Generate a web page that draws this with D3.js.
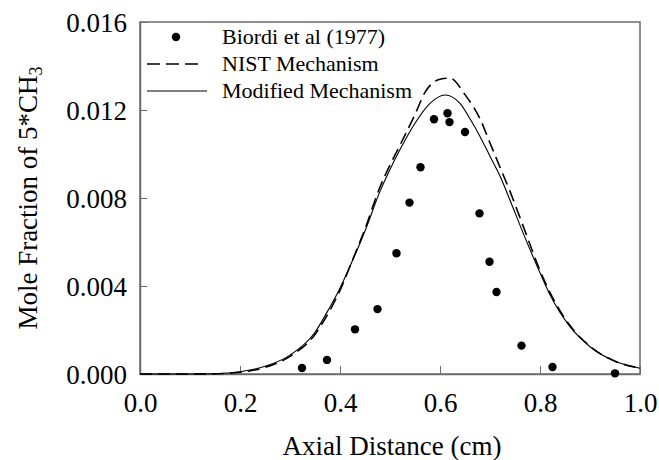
<!DOCTYPE html>
<html lang="en">
    <head>
        <meta charset="utf-8">
        <title>CH3 profile</title>
        <script type="text/javascript" src="https://cdnjs.cloudflare.com/ajax/libs/d3/7.8.5/d3.min.js"></script>
        <style type="text/css">
            body { margin: 0; background: #fff; }
            text { font-family: "Liberation Serif", "Times New Roman", serif; fill: #000; }
        </style>
    </head>
    <body>
        <script type="text/javascript">
            var w = 659;
            var h = 460;

            // measured points, Biordi et al (1977)
            var biordiX = [0.324, 0.374, 0.430, 0.475, 0.513, 0.539, 0.561, 0.588, 0.615, 0.619, 0.650, 0.679, 0.699, 0.713, 0.763, 0.825, 0.950];
            var biordiY = [0.00027, 0.00064, 0.00203, 0.00295, 0.00549, 0.00779, 0.00940, 0.01158, 0.01185, 0.01145, 0.01100, 0.00730, 0.00510, 0.00373, 0.00129, 0.00032, 0.00003];

            // NIST mechanism (dashed)
            var nistX = [0.00, 0.05, 0.10, 0.15, 0.20, 0.25, 0.30, 0.35, 0.38, 0.40, 0.42, 0.45, 0.48, 0.50, 0.52, 0.55, 0.57, 0.60, 0.62, 0.65, 0.68, 0.70, 0.72, 0.74, 0.77, 0.80, 0.82, 0.86, 0.90, 0.95, 1.00];
            var nistY = [0, 0, 0, 0.00001, 0.00008, 0.0003, 0.0008, 0.0018, 0.0029, 0.0038, 0.0049, 0.0066, 0.0085, 0.0095, 0.0104, 0.0118, 0.0128, 0.0134, 0.01345, 0.0127, 0.0116, 0.0105, 0.0094, 0.0083, 0.0065, 0.0047, 0.0037, 0.0022, 0.00126, 0.00058, 0.00027];

            // modified mechanism (solid)
            var modX = [0.00, 0.05, 0.10, 0.15, 0.20, 0.25, 0.30, 0.35, 0.38, 0.40, 0.42, 0.45, 0.48, 0.50, 0.52, 0.55, 0.58, 0.61, 0.64, 0.66, 0.68, 0.70, 0.72, 0.74, 0.77, 0.80, 0.82, 0.86, 0.90, 0.95, 1.00];
            var modY = [0, 0, 0, 0.00001, 0.0001, 0.00035, 0.00086, 0.0019, 0.00305, 0.0039, 0.0049, 0.0065, 0.0083, 0.0093, 0.0102, 0.0114, 0.0123, 0.01268, 0.0123, 0.0116, 0.0108, 0.0099, 0.0090, 0.0079, 0.0062, 0.0046, 0.0036, 0.00215, 0.00124, 0.00058, 0.00026];

            var xTicks = [0, 0.2, 0.4, 0.6, 0.8, 1.0];
            var yTicks = [0, 0.004, 0.008, 0.012, 0.016];
            var legendLabels = ["Biordi et al (1977)", "NIST Mechanism", "Modified Mechanism"];

            var pLeft = 140, pRight = 640, pTop = 22, pBottom = 374;

            var x = d3.scaleLinear().domain([0, 1]).range([pLeft, pRight]);
            var y = d3.scaleLinear().domain([0, 0.016]).range([pBottom, pTop]);

            var svg = d3.select("body")
                        .append("svg")
                        .attr("width", w)
                        .attr("height", h);

            // frame
            svg.append("rect")
               .attr("x", pLeft).attr("y", pTop)
               .attr("width", pRight - pLeft).attr("height", pBottom - pTop)
               .attr("fill", "none")
               .attr("stroke", "#6b6b6b")
               .attr("stroke-width", 1.5);

            var xAxis = svg.append("g")
               .attr("transform", "translate(0," + pBottom + ")")
               .call(d3.axisBottom(x).tickValues(xTicks).tickFormat(d3.format(".1f")).tickSizeInner(-8).tickSizeOuter(0));
            xAxis.select(".domain").attr("stroke", "#6b6b6b").attr("stroke-width", 1.5);
            xAxis.selectAll(".tick line").attr("stroke", "#6b6b6b");
            xAxis.selectAll(".tick text")
                 .attr("y", 38).attr("dy", null)
                 .style("font-family", "Liberation Serif").style("font-size", "27px");

            var yAxis = svg.append("g")
               .attr("transform", "translate(" + pLeft + ",0)")
               .call(d3.axisLeft(y).tickValues(yTicks).tickFormat(d3.format(".3f")).tickSizeInner(-7).tickSizeOuter(0));
            yAxis.select(".domain").attr("stroke", "#6b6b6b").attr("stroke-width", 1.5);
            yAxis.selectAll(".tick line").attr("stroke", "#6b6b6b");
            yAxis.selectAll(".tick text")
                 .attr("x", -13).attr("dy", "0.34em")
                 .style("font-family", "Liberation Serif").style("font-size", "27px");

            // curves
            var line = d3.line()
                .x(function(d) { return x(d[0]); })
                .y(function(d) { return y(d[1]); })
                .curve(d3.curveMonotoneX);

            svg.append("path")
               .datum(d3.zip(nistX, nistY))
               .attr("d", line)
               .attr("fill", "none")
               .attr("stroke", "#000")
               .attr("stroke-width", 1.6)
               .attr("stroke-dasharray", "12,6");

            svg.append("path")
               .datum(d3.zip(modX, modY))
               .attr("d", line)
               .attr("fill", "none")
               .attr("stroke", "#000")
               .attr("stroke-width", 1.1);

            svg.selectAll("circle.pt")
               .data(d3.zip(biordiX, biordiY))
               .enter()
               .append("circle")
               .attr("class", "pt")
               .attr("cx", function(d) { return x(d[0]); })
               .attr("cy", function(d) { return y(d[1]); })
               .attr("r", 4.2)
               .attr("fill", "#000");

            // legend
            var rowY = [37, 64, 91];
            svg.append("circle").attr("cx", 176).attr("cy", rowY[0]).attr("r", 4.2).attr("fill", "#000");
            svg.append("line").attr("x1", 147).attr("x2", 199).attr("y1", rowY[1]).attr("y2", rowY[1])
               .attr("stroke", "#000").attr("stroke-width", 1.6).attr("stroke-dasharray", "13,6");
            svg.append("line").attr("x1", 147).attr("x2", 207).attr("y1", rowY[2]).attr("y2", rowY[2])
               .attr("stroke", "#000").attr("stroke-width", 1.1);
            svg.selectAll("text.leg")
               .data(legendLabels)
               .enter()
               .append("text")
               .attr("class", "leg")
               .attr("x", 222)
               .attr("y", function(d, i) { return rowY[i]; })
               .attr("dy", "0.33em")
               .attr("font-size", "22px")
               .text(function(d) { return d; });

            // axis titles
            svg.append("text")
               .attr("x", (pLeft + pRight) / 2 + 2)
               .attr("y", 455)
               .attr("text-anchor", "middle")
               .attr("font-size", "27px")
               .text("Axial Distance (cm)");

            var yt = svg.append("text")
               .attr("transform", "translate(37," + (pTop + pBottom) / 2 + ") rotate(-90)")
               .attr("text-anchor", "middle")
               .attr("font-size", "27px");
            yt.append("tspan").text("Mole Fraction of 5*CH");
            yt.append("tspan").attr("baseline-shift", "-25%").attr("font-size", "18px").text("3");
        </script>
    </body>
</html>
